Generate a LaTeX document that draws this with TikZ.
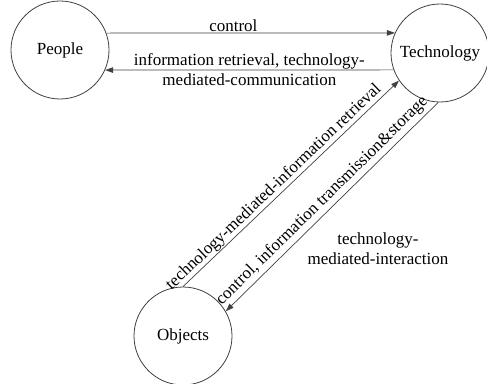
\documentclass[tikz,border=0pt]{standalone}
\usepackage{fontspec}
\setmainfont{Liberation Serif}
\usetikzlibrary{arrows.meta}
\definecolor{linegray}{HTML}{404040}
\tikzset{
  entity/.style={circle, draw=linegray, line width=0.8pt, minimum size=98pt, inner sep=0pt},
  conn/.style={draw=linegray, line width=0.7pt, -{Triangle[length=8pt,width=5.5pt]}},
  lbl/.style={text=black, font=\fontsize{17}{20}\selectfont, align=center},
}
\begin{document}
\begin{tikzpicture}[x=1pt,y=1pt]
\useasboundingbox (0,0) rectangle (487,383);
\node[entity, font=\fontsize{17}{20}\selectfont] (P) at (60,333) {People};
\node[entity, font=\fontsize{17}{20}\selectfont] (T) at (440,330) {Technology};
\node[entity, font=\fontsize{17}{20}\selectfont] (O) at (183,47) {Objects};

\draw[conn] (P.20.5) -- node[lbl, above, pos=0.44, inner sep=1pt] {control} (T.156);
\draw[conn] (T.200) -- node[lbl, midway] {information retrieval, technology-\\mediated-communication} (P.-24);
\draw[conn] (O.90) -- node[lbl, sloped, above, pos=0.45, inner sep=1pt] {technology-mediated-information retrieval} (T.214);
\draw[conn] (T.268) -- node[lbl, sloped, above, pos=0.51, inner sep=3pt] {control, information transmission\&storage} (O.30);
\node[lbl] (TMI) at (378,134) {technology-\\mediated-interaction};
\end{tikzpicture}
\end{document}
